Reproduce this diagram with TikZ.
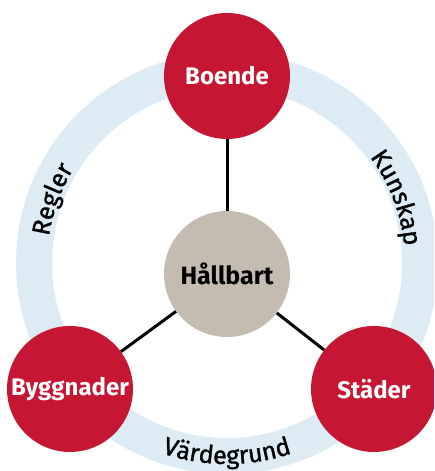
\documentclass[tikz,border=0pt]{standalone}
\usepackage{fontspec}
\setmainfont{Fira Sans}
\newfontfamily\ringfam[FakeBold=1.2]{Fira Sans}
\usetikzlibrary{decorations.text}
\definecolor{ringblue}{HTML}{DDEBF4}
\definecolor{crimson}{HTML}{C51634}
\definecolor{beige}{HTML}{C4BCB0}
\tikzset{
  bubble/.style={circle, fill=crimson, text=white, minimum size=126pt, inner sep=0pt, font=\fontsize{24}{24}\selectfont\bfseries},
  hub/.style={circle, fill=beige, text=black, minimum size=126pt, inner sep=0pt, font=\fontsize{25}{25}\selectfont\bfseries},
  link/.style={line width=3pt, black},
}
\newcommand{\ringfont}{\ringfam\fontsize{25}{25}\selectfont}
\begin{document}
\begin{tikzpicture}[x=1pt,y=1pt]
\useasboundingbox (0,0) rectangle (434,471);
\clip (0,0) rectangle (434,471);
\coordinate (rc) at (227,208);
\draw[ringblue, line width=36pt] (rc) circle[radius=193];
\path[decorate, decoration={text along path, text align=center, text={|\ringfont|Regler}}]
  (rc) ++(200:180) arc[start angle=200, end angle=120, radius=180];
\path[decorate, decoration={text along path, text align=center, text={|\ringfont|Kunskap}}]
  (rc) ++(61:178) arc[start angle=61, end angle=-19, radius=178];
\path[decorate, decoration={text along path, text align=center, text={|\ringfont|Värdegrund}}]
  (rc) ++(225:201) arc[start angle=225, end angle=315, radius=201];
\node[hub] (hall) at (227,197) {Hållbart};
\node[bubble] (boende) at (227,395) {Boende};
\node[bubble] (bygg) at (70,82) {Byggnader};
\node[bubble] (stad) at (374,82) {Städer};
\draw[link] (boende) -- (hall);
\draw[link] (bygg) -- (hall);
\draw[link] (stad) -- (hall);
\end{tikzpicture}
\end{document}
